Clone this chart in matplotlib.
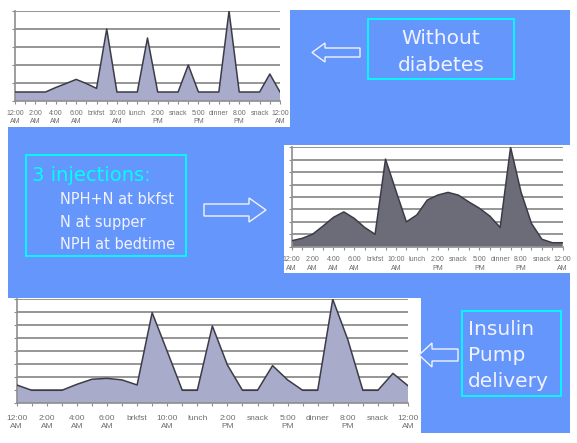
import matplotlib
matplotlib.use("Agg")
import matplotlib.pyplot as plt
from matplotlib.patches import Rectangle, Polygon

# --- data -------------------------------------------------------------
tick_labels = ["12:00\nAM", "2:00\nAM", "4:00\nAM", "6:00\nAM", "brkfst",
               "10:00\nAM", "lunch", "2:00\nPM", "snack", "5:00\nPM",
               "dinner", "8:00\nPM", "snack", "12:00\nAM"]

# insulin level sampled at every half label step (27 samples)
no_diabetes = [0.5, 0.5, 0.5, 0.5, 0.75, 0.97, 1.2, 0.97, 0.7, 4.0, 0.5, 0.5,
               0.5, 3.5, 0.5, 0.5, 0.5, 2.0, 0.5, 0.5, 0.5, 5.0, 0.5, 0.5,
               0.5, 1.5, 0.5]
three_injections = [0.48, 0.67, 1.0, 1.66, 2.36, 2.8, 2.28, 1.55, 1.0, 7.05,
                    4.5, 2.0, 2.55, 3.75, 4.15, 4.37, 4.15, 3.6, 3.1, 2.47,
                    1.55, 8.0, 4.4, 1.88, 0.6, 0.32, 0.32]
pump_delivery = [1.41, 1.0, 1.0, 1.0, 1.46, 1.85, 1.92, 1.8, 1.41, 6.97, 4.0,
                 1.0, 1.0, 5.95, 2.95, 1.0, 1.0, 2.9, 1.8, 1.0, 1.0, 8.0, 4.9,
                 1.0, 1.0, 2.3, 1.35]

# --- styling ----------------------------------------------------------
W, H = 577, 443
BLUE = "#6596FC"
CYAN = "#00FFFF"
LIGHT = "#F2F2FF"
GRID = "#8E8E8E"
LABEL = "#6E6E6E"

fig = plt.figure(figsize=(W / 100, H / 100), dpi=100)
fig.patch.set_facecolor("white")

# full-figure canvas in pixel coordinates
bg = fig.add_axes([0, 0, 1, 1], zorder=0)
bg.set_xlim(0, W)
bg.set_ylim(H, 0)
bg.axis("off")

bg.add_patch(Rectangle((8, 10), 562, 423, facecolor=BLUE, edgecolor="none"))

# white panels behind each chart
for (x0, y0, x1, y1) in [(0, 0, 290, 127), (284, 145, 570, 273), (0, 298, 421, 443)]:
    bg.add_patch(Rectangle((x0, y0), x1 - x0, y1 - y0, facecolor="white",
                           edgecolor="none"))


def chart(left, top, right, bottom, values, ymax, fill, fsize, pad):
    ax = fig.add_axes([left / W, 1 - bottom / H, (right - left) / W, (bottom - top) / H],
                      zorder=2)
    ax.set_facecolor("none")
    xs = list(range(len(values)))
    ax.fill_between(xs, 0, values, facecolor=fill, edgecolor="none", zorder=2)
    ax.plot(xs, values, color="#3C3C48", lw=1.1, zorder=3)
    for v in range(1, ymax + 1):
        ax.axhline(v, color=GRID, lw=1.3, zorder=1)
    ax.set_xlim(0, len(values) - 1)
    ax.set_ylim(0, ymax)
    ax.set_xticks(xs, minor=True)
    ax.set_xticks(range(0, len(values), 2))
    ax.set_xticklabels(tick_labels, fontsize=fsize, color=LABEL,
                       family="Liberation Sans", linespacing=1.25)
    ax.set_yticks(range(0, ymax + 1))
    ax.set_yticklabels([])
    ax.tick_params(axis="x", which="both", direction="out", length=2.5,
                   width=0.8, color=GRID, pad=pad)
    ax.tick_params(axis="y", direction="out", length=2, width=0.8, color=GRID)
    for s in ("top", "right"):
        ax.spines[s].set_visible(False)
    for s in ("left", "bottom"):
        ax.spines[s].set_color(GRID)
        ax.spines[s].set_linewidth(1.2)
    return ax


chart(15, 11, 280, 101, no_diabetes, 5, "#A9ABCA", 5, 4)
chart(291.7, 147.3, 562.7, 246.7, three_injections, 8, "#6C6C78", 5, 4.5)
chart(16.7, 299.3, 408, 403.3, pump_delivery, 8, "#A9ABCA", 6, 6)


def arrow(points):
    bg.add_patch(Polygon(points, closed=True, facecolor=BLUE, edgecolor=LIGHT,
                         lw=1.0, joinstyle="miter"))


# "Without diabetes" callout
bg.add_patch(Rectangle((368, 19), 146, 60, facecolor="none", edgecolor=CYAN, lw=1.3))
bg.text(441, 44.3, "Without", ha="center", va="baseline", fontsize=14.5, color=LIGHT)
bg.text(441, 71, "diabetes", ha="center", va="baseline", fontsize=14.5, color=LIGHT)
arrow([(312, 52.5), (325, 43), (325, 48), (360, 48), (360, 57), (325, 57), (325, 62)])

# "3 injections" callout
bg.add_patch(Rectangle((26, 155), 160, 101, facecolor="none", edgecolor=CYAN, lw=1.3))
bg.text(32, 180.7, "3 injections:", ha="left", va="baseline", fontsize=14, color=CYAN)
for yb, line in [(204, "NPH+N at bkfst"), (227.3, "N at supper"), (249.3, "NPH at bedtime")]:
    bg.text(60, yb, line, ha="left", va="baseline", fontsize=10.5, color=LIGHT)
arrow([(204, 204), (249, 204), (249, 198), (266, 210), (249, 222), (249, 216), (204, 216)])

# "Insulin Pump delivery" callout
bg.add_patch(Rectangle((462, 311), 99, 85, facecolor="none", edgecolor=CYAN, lw=1.3))
for yb, line in [(335, "Insulin"), (360.7, "Pump"), (386.7, "delivery")]:
    bg.text(468, yb, line, ha="left", va="baseline", fontsize=14.5, color=LIGHT)
arrow([(419, 355), (432, 343), (432, 349), (458, 349), (458, 361), (432, 361), (432, 367)])

fig.savefig("out.png", dpi=100, facecolor=fig.get_facecolor())
